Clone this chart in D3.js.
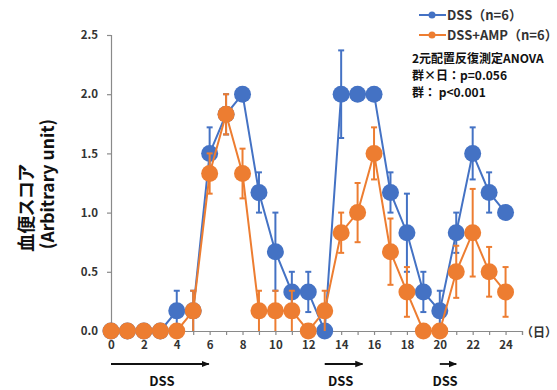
<!DOCTYPE html>
<html lang="ja">
<head>
<meta charset="UTF-8">
<title>血便スコア</title>
<style>
  body { margin: 0; background: #fff; }
  svg text { font-family: "Noto Sans CJK JP", "Noto Sans", sans-serif; font-weight: bold; }
  .ytitle { font-feature-settings: "palt"; }
</style>
</head>
<body>
<svg id="chart"></svg>
<script src="https://d3js.org/d3.v7.min.js"></script>
<script>
// data
const days = d3.range(0, 25);
const dssMean = [0, 0, 0, 0, 0.17, 0.17, 1.5, 1.83, 2.0, 1.17, 0.67, 0.33, 0.33, 0,
                 2.0, 2.0, 2.0, 1.17, 0.83, 0.33, 0.17, 0.83, 1.5, 1.17, 1.0];
const dssErr  = [0, 0, 0, 0, 0.17, 0.17, 0.22, 0.17, 0, 0.17, 0.33, 0.17, 0.17, 0,
                 0.37, 0, 0, 0.17, 0.33, 0.17, 0.17, 0.17, 0.22, 0.17, 0];
const ampMean = [0, 0, 0, 0, 0, 0.17, 1.33, 1.83, 1.33, 0.17, 0.17, 0.17, 0, 0.17,
                 0.83, 1.0, 1.5, 0.67, 0.33, 0, 0, 0.5, 0.83, 0.5, 0.33];
const ampErr  = [0, 0, 0, 0, 0, 0.17, 0.17, 0.17, 0.21, 0.17, 0.17, 0.17, 0, 0.17,
                 0.17, 0.25, 0.22, 0.28, 0.21, 0, 0, 0.22, 0.37, 0.21, 0.21];
const yTicks = [0, 0.5, 1.0, 1.5, 2.0, 2.5];
const xTickLabels = [0, 2, 4, 6, 8, 10, 12, 14, 16, 18, 20, 22, 24];
const seriesNames = ["DSS（n=6）", "DSS+AMP（n=6）"];
const statLines = ["2元配置反復測定ANOVA", "群×日：p=0.056", "群： p<0.001"];
// DSS periods [start day, end day]
const dssPeriods = [[0, 5.95], [13, 15.3], [20, 21]];

const width = 557, height = 390;
const blue = "#4472C4", orange = "#ED7D31";

const svg = d3.select("#chart")
    .attr("width", width)
    .attr("height", height)
    .attr("viewBox", [0, 0, width, height]);

const x = d3.scaleLinear().domain([0, 25]).range([111, 522]);
const y = d3.scaleLinear().domain([0, 2.5]).range([331, 35]);

// y axis
svg.append("g")
    .attr("transform", `translate(${x(0)},0)`)
    .call(d3.axisLeft(y).tickValues(yTicks).tickFormat(d3.format(".1f")).tickSize(4).tickPadding(9))
    .call(g => g.selectAll("path, line").attr("stroke", "#8a8a8a").attr("stroke-width", 1.2))
    .call(g => g.selectAll("text").attr("font-size", 11.5).attr("fill", "#333"));

// x axis, ticks every day, labels every 2
svg.append("g")
    .attr("transform", `translate(0,${y(0)})`)
    .call(d3.axisBottom(x).tickValues(d3.range(0, 26)).tickSizeOuter(0).tickSize(4).tickPadding(6)
        .tickFormat(d => xTickLabels.includes(d) ? d : ""))
    .call(g => g.selectAll("path, line").attr("stroke", "#8a8a8a").attr("stroke-width", 1.2))
    .call(g => g.selectAll("text").attr("font-size", 11.5).attr("fill", "#333"));

svg.append("text")
    .attr("x", 539).attr("y", y(0) + 6)
    .attr("text-anchor", "middle")
    .attr("font-size", 12).attr("fill", "#333")
    .text("（日）");

// y axis title
svg.append("text")
    .attr("class", "ytitle")
    .attr("transform", "translate(33,208) rotate(-90)")
    .attr("text-anchor", "middle")
    .attr("font-size", 18).attr("fill", "#111")
    .text("血便スコア");
svg.append("text")
    .attr("class", "ytitle")
    .attr("transform", "translate(54,184) rotate(-90)")
    .attr("text-anchor", "middle")
    .attr("font-size", 17.5).attr("fill", "#111")
    .text("(Arbitrary unit)");

function drawSeries(mean, err, color) {
    const pts = days.map((d, i) => ({ d, v: mean[i], e: err[i] }));
    const g = svg.append("g");
    g.append("path")
        .datum(pts)
        .attr("fill", "none")
        .attr("stroke", color)
        .attr("stroke-width", 2)
        .attr("d", d3.line().x(p => x(p.d)).y(p => y(p.v)));
    const eb = g.append("g")
        .attr("stroke", color)
        .attr("stroke-width", 2)
        .selectAll("g")
        .data(pts.filter(p => p.e > 0))
        .join("g");
    eb.append("line")
        .attr("x1", p => x(p.d)).attr("x2", p => x(p.d))
        .attr("y1", p => y(Math.max(0, p.v - p.e))).attr("y2", p => y(p.v + p.e));
    eb.append("line")
        .attr("x1", p => x(p.d) - 3).attr("x2", p => x(p.d) + 3)
        .attr("y1", p => y(p.v + p.e)).attr("y2", p => y(p.v + p.e));
    eb.filter(p => p.v - p.e > 0.01).append("line")
        .attr("x1", p => x(p.d) - 3).attr("x2", p => x(p.d) + 3)
        .attr("y1", p => y(p.v - p.e)).attr("y2", p => y(p.v - p.e));
    g.append("g")
        .attr("fill", color)
        .selectAll("circle")
        .data(pts)
        .join("circle")
        .attr("cx", p => x(p.d))
        .attr("cy", p => y(p.v))
        .attr("r", 8.5);
}

drawSeries(dssMean, dssErr, blue);
drawSeries(ampMean, ampErr, orange);

// legend
const legend = svg.append("g");
[blue, orange].forEach((c, i) => {
    const ly = 15 + i * 20;
    legend.append("line")
        .attr("x1", 419).attr("x2", 446).attr("y1", ly).attr("y2", ly)
        .attr("stroke", c).attr("stroke-width", 2);
    legend.append("circle").attr("cx", 432).attr("cy", ly).attr("r", 3.5).attr("fill", c);
    legend.append("text")
        .attr("x", 447).attr("y", ly).attr("dy", "0.36em")
        .attr("font-size", 13).attr("fill", "#333")
        .text(seriesNames[i]);
});

// stats text
svg.append("g").selectAll("text")
    .data(statLines)
    .join("text")
    .attr("x", 412)
    .attr("y", (d, i) => 63 + i * 17)
    .attr("font-size", 12).attr("fill", "#111")
    .text(d => d);

// DSS arrows
svg.append("defs").append("marker")
    .attr("id", "arrow")
    .attr("viewBox", "0 0 10 10")
    .attr("refX", 9).attr("refY", 5)
    .attr("markerWidth", 4.5).attr("markerHeight", 4.5)
    .attr("orient", "auto")
    .append("path").attr("d", "M0,1 L10,5 L0,9 Z").attr("fill", "#111");

const arrows = svg.append("g").selectAll("g").data(dssPeriods).join("g");
arrows.append("line")
    .attr("x1", p => x(p[0])).attr("x2", p => x(p[1]))
    .attr("y1", 364).attr("y2", 364)
    .attr("stroke", "#111").attr("stroke-width", 1.8)
    .attr("marker-end", "url(#arrow)");
arrows.append("text")
    .attr("x", (p, i) => i === 0 ? x(3.1) : x((p[0] + p[1]) / 2) - 3)
    .attr("y", 386)
    .attr("text-anchor", "middle")
    .attr("font-size", 13).attr("fill", "#111")
    .text("DSS");
</script>
</body>
</html>
